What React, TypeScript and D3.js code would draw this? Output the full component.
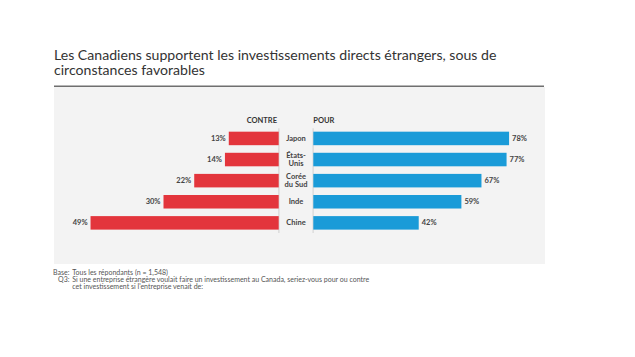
import React from "react";
import * as d3 from "d3";

const categories = ["Japon", "États-Unis", "Corée du Sud", "Inde", "Chine"];
const categoryLines = [["Japon"], ["États-", "Unis"], ["Corée", "du Sud"], ["Inde"], ["Chine"]];
const contre = [13, 14, 22, 30, 49];
const pour = [78, 77, 67, 59, 42];
const titleLines = [
  "Les Canadiens supportent les investissements directs étrangers, sous de",
  "circonstances favorables",
];
const footLines = [
  ["Base:", "Tous les répondants (n = 1,548)"],
  ["Q3:", "Si une entreprise étrangère voulait faire un investissement au Canada, seriez-vous pour ou contre"],
  ["", "cet investissement si l'entreprise venait de:"],
];

const RED = "#e3353c";
const BLUE = "#1a9bd8";
const FONT = "Lato, 'Open Sans', sans-serif";

export default function App() {
  const xRed = d3.scaleLinear().domain([0, 100]).range([278.7, 278.7 - 384]);
  const xBlue = d3.scaleLinear().domain([0, 100]).range([313.3, 313.3 + 251]);
  const y = d3
    .scaleBand<string>()
    .domain(categories)
    .range([128.3, 233])
    .paddingInner(0.36)
    .paddingOuter(0.16);
  const bw = y.bandwidth();
  const [r0, r1] = y.range();

  return (
    <svg
      width={635}
      height={357}
      style={{ position: "absolute", left: 0, top: 0, background: "#fff" }}
      fontFamily={FONT}
    >
      {titleLines.map((t, i) => (
        <text key={i} x={54} y={59.5 + i * 15.5} fontSize={14.1} fill="#333">
          {t}
        </text>
      ))}
      <rect x={54} y={87} width={491} height={177} fill="#f3f3f3" />
      <line x1={54} x2={544} y1={86.3} y2={86.3} stroke="#6f6f6f" strokeWidth={1.5} />

      <text x={277} y={123} fontSize={7.5} fontWeight="bold" textAnchor="end" fill="#333">
        CONTRE
      </text>
      <text x={313.3} y={123} fontSize={7.5} fontWeight="bold" fill="#333">
        POUR
      </text>
      <line x1={278.9} x2={278.9} y1={r0} y2={r1} stroke="#c8c8c8" strokeWidth={0.8} />
      <line x1={313.1} x2={313.1} y1={r0} y2={r1} stroke="#c8c8c8" strokeWidth={0.8} />

      {categories.map((c, i) => {
        const yy = y(c)!;
        const cy = yy + bw / 2;
        const lines = categoryLines[i];
        return (
          <g key={c}>
            <rect x={xRed(contre[i])} y={yy} width={xRed(0) - xRed(contre[i])} height={bw} fill={RED} />
            <rect x={xBlue(0)} y={yy} width={xBlue(pour[i]) - xBlue(0)} height={bw} fill={BLUE} />
            <text
              x={xRed(contre[i]) - 3}
              y={cy + 2.6}
              fontSize={7.5}
              fontWeight="bold"
              textAnchor="end"
              fill="#444"
            >
              {contre[i]}%
            </text>
            <text x={xBlue(pour[i]) + 3} y={cy + 2.6} fontSize={7.5} fontWeight="bold" fill="#444">
              {pour[i]}%
            </text>
            <text x={296} fontSize={7.5} fontWeight="bold" textAnchor="middle" fill="#444">
              {lines.map((l, j) => (
                <tspan key={j} x={296} y={cy + 2.6 + (j - (lines.length - 1) / 2) * 7.8}>
                  {l}
                </tspan>
              ))}
            </text>
          </g>
        );
      })}

      {footLines.map((f, i) => (
        <g key={i}>
          <text x={69.5} y={274.5 + i * 7.2} fontSize={7} textAnchor="end" fill="#555">
            {f[0]}
          </text>
          <text x={72.3} y={274.5 + i * 7.2} fontSize={7} fill="#555">
            {f[1]}
          </text>
        </g>
      ))}
    </svg>
  );
}
